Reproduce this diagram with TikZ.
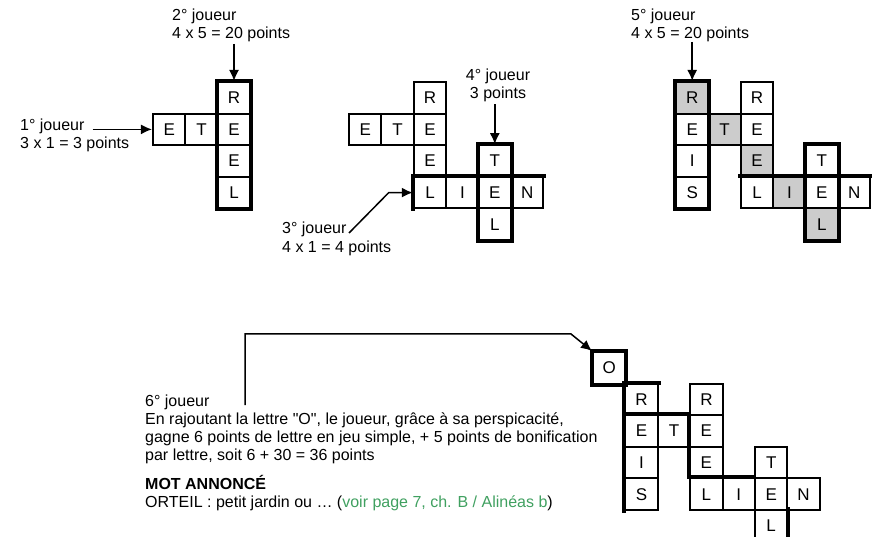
\documentclass[tikz,border=0pt]{standalone}
\usepackage{fontspec}
\setmainfont{Liberation Sans}[Ligatures=TeXOff]
\usetikzlibrary{arrows.meta,positioning,calc}
\definecolor{refgreen}{RGB}{64,160,96}
\definecolor{cellgrey}{RGB}{204,204,204}

\begin{document}
\begin{tikzpicture}[x=1pt,y=-1pt,>={Latex[length=11pt,width=10pt]},
  cell/.style={draw,line width=2.1pt,minimum width=32.4pt,minimum height=31.6pt,
    inner sep=0pt,font=\fontsize{17}{18}\selectfont},
  hot/.style={line width=4pt,line cap=rect},
  lbl/.style={inner sep=0pt,align=left,font=\fontsize{16}{18}\selectfont},
  arr/.style={->,line width=1.5pt}]
  \useasboundingbox (0,0) rectangle (872,537);
  % 1st and 2nd player
  \foreach \c/\r/\l in {2/0/R,0/1/E,1/1/T,2/1/E,2/2/E,2/3/L}
    \node[cell] (a-\c-\r) at ({153+(\c+0.5)*32.4},{82+(\r+0.5)*31.6}) {\l};
  \draw[hot] (a-2-0.north west) rectangle (a-2-3.south east);
  \node[lbl,anchor=base west] (p2) at (172,39) {2° joueur\\4 x 5 = 20 points};
  \draw[arr] ($(a-2-0.north)+(0,-37)$) -- (a-2-0.north);
  \node[lbl,anchor=base west] (p1) at (20,131) {1° joueur};
  \node[lbl,anchor=base west] (p1b) at (20,149) {3 x 1 = 3 points};
  \draw[arr] ([xshift=8pt]p1.east |- a-0-1.west) -- (a-0-1.west);

  % 3rd and 4th player
  \foreach \c/\r/\l in {2/0/R,0/1/E,1/1/T,2/1/E,2/2/E,2/3/L,3/3/I,4/3/E,5/3/N,4/2/T,4/4/L}
    \node[cell] (b-\c-\r) at ({349+(\c+0.5)*32.4},{82+(\r+0.5)*31.6}) {\l};
  \draw[hot] (b-4-2.north west) rectangle (b-4-4.south east);
  \draw[hot] (b-2-3.south west) -- (b-2-3.north west) -- (b-5-3.north east);
  \node[lbl,anchor=base,align=center] (p4) at (498,99) {4° joueur\\3 points};
  \draw[arr] ($(b-4-2.north)+(0,-40)$) -- (b-4-2.north);
  \node[lbl,anchor=base west] (p3) at (282,252) {3° joueur\\4 x 1 = 4 points};
  \coordinate (p3a) at (349,233);
  \draw[arr] (p3a) -- ([xshift=-24pt]b-2-3.west) -- (b-2-3.west);

  % 5th player
  \foreach \c/\r/\l/\f in {0/0/R/cellgrey,2/0/R/white,0/1/E/white,1/1/T/cellgrey,
      2/1/E/white,0/2/I/white,2/2/E/cellgrey,0/3/S/white,2/3/L/white,3/3/I/cellgrey,
      4/3/E/white,5/3/N/white,4/2/T/white,4/4/L/cellgrey}
    \node[cell,fill=\f] (c-\c-\r) at ({676+(\c+0.5)*32.4},{82+(\r+0.5)*31.6}) {\l};
  \draw[hot] (c-0-0.north west) rectangle (c-0-3.south east);
  \draw[hot] (c-4-2.north west) rectangle (c-4-4.south east);
  \draw[hot] (c-2-3.north west) -- (c-5-3.north east);
  \node[lbl,anchor=base west] (p5) at (631,39) {5° joueur\\4 x 5 = 20 points};
  \draw[arr] ($(c-0-0.north)+(0,-39)$) -- (c-0-0.north);

  % 6th player
  \foreach \c/\r/\l in {0/0/O,1/1/R,3/1/R,1/2/E,2/2/T,3/2/E,1/3/I,3/3/E,1/4/S,
      3/4/L,4/4/I,5/4/E,6/4/N,5/3/T,5/5/L}
    \node[cell] (d-\c-\r) at ({593+(\c+0.5)*32.4},{352+(\r+0.5)*31.6}) {\l};
  \draw[hot] (d-0-0.north west) rectangle (d-0-0.south east);
  \draw[hot] (d-1-4.south west) -- (d-1-1.north west) -- (d-1-1.north east);
  \draw[hot] (d-1-2.north west) -- (d-3-2.north west) -- (d-3-4.north west) -- (d-5-4.north west);
  \draw[hot] (d-5-5.north east) -- (d-5-5.south east);
  \node[lbl,anchor=base west] (p6) at (145,460) {6° joueur\\
    En rajoutant la lettre "O", le joueur, grâce à sa perspicacité,\\
    gagne 6 points de lettre en jeu simple, + 5 points de bonification\\
    par lettre, soit 6 + 30 = 36 points};
  \node[lbl,anchor=base west] (mot) at (145,507) {\textbf{MOT ANNONCÉ}\\
    ORTEIL : petit jardin ou … ({\color{refgreen}voir page 7, ch. B / Alinéas b})};
  \coordinate (p6a) at (245,405);
  \draw[arr] (p6a) |- ([shift={(-21pt,17pt)}]d-0-0.north west) -- (d-0-0.north west);
\end{tikzpicture}
\end{document}
